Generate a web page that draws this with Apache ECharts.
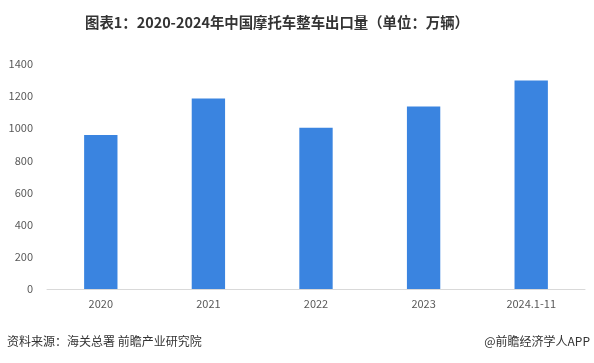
<!DOCTYPE html>
<html>
<head>
<meta charset="utf-8">
<script src="https://cdn.jsdelivr.net/npm/echarts@6/dist/echarts.min.js"></script>
<style>html,body{margin:0;padding:0;background:#fff}#c{width:594px;height:363px}</style>
</head>
<body>
<div id="c"></div>
<script>
const categories = ['2020', '2021', '2022', '2023', '2024.1-11'];
const exportVolume = [958, 1186, 1003, 1136, 1298];
const yMin = 0, yMax = 1400, yInterval = 200;
const titleText = '图表1：2020-2024年中国摩托车整车出口量（单位：万辆）';
const sourceText = '资料来源：海关总署 前瞻产业研究院';
const brandText = '@前瞻经济学人APP';

const chart = echarts.init(document.getElementById('c'), null, {renderer: 'canvas'});
const font = '"Noto Sans CJK SC", "Noto Sans", sans-serif';
chart.setOption({
  animation: false,
  backgroundColor: '#fff',
  title: {
    text: titleText, left: 80, top: 10,
    textStyle: {fontSize: 14.4, fontWeight: 'bold', color: '#333', fontFamily: font}
  },
  grid: {left: 47, right: 9, top: 64, bottom: 74},
  xAxis: {
    type: 'category', data: categories,
    axisLine: {lineStyle: {color: '#d9d9d9'}},
    axisTick: {show: false},
    axisLabel: {color: '#595959', fontSize: 11, margin: 9, fontFamily: font}
  },
  yAxis: {
    type: 'value', min: yMin, max: yMax, interval: yInterval,
    axisLine: {show: false}, axisTick: {show: false},
    splitLine: {show: false},
    axisLabel: {color: '#595959', fontSize: 11, margin: 14, fontFamily: font,
      formatter: function (v) { return String(v); }}
  },
  series: [{
    type: 'bar', data: exportVolume, barWidth: '31%',
    itemStyle: {color: '#3a84e0'}
  }],
  graphic: [
    {type: 'text', left: 7, top: 335, style: {text: sourceText, fontSize: 12, fill: '#333', fontFamily: font}},
    {type: 'text', right: 4, top: 335, style: {text: brandText, fontSize: 12, fill: '#333', fontFamily: font}}
  ]
});
</script>
</body>
</html>
